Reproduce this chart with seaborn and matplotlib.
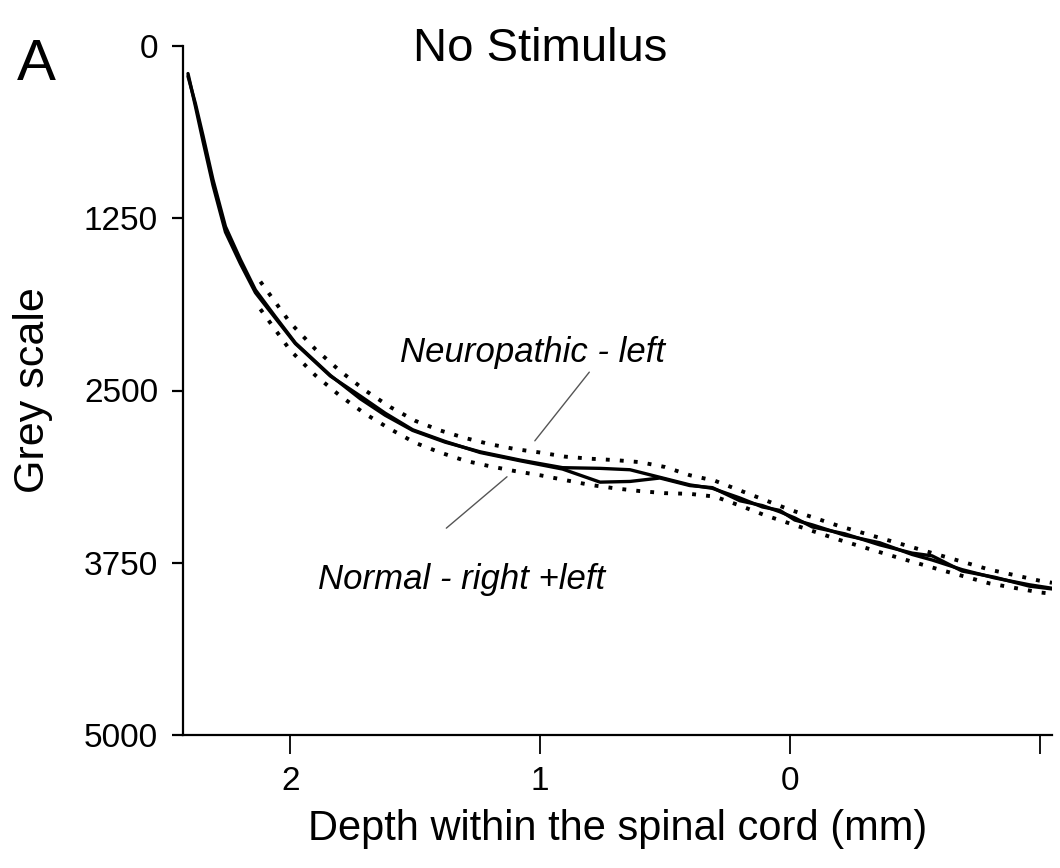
import matplotlib
matplotlib.use("Agg")
import matplotlib.pyplot as plt
import seaborn as sns
import pandas as pd

# ---- data ----
depth = [2.41, 2.38, 2.35, 2.31, 2.26, 2.20, 2.14, 2.06, 1.98, 1.84, 1.72, 1.62, 1.51,
         1.38, 1.24, 1.08, 0.91, 0.76, 0.64, 0.52, 0.40, 0.31, 0.20, 0.11, 0.04,
         -0.02, -0.09, -0.22, -0.36, -0.49, -0.57, -0.69, -0.82, -0.96, -1.05]
normal = [220, 420, 650, 970, 1310, 1550, 1770, 1965, 2155, 2390, 2560, 2680, 2790,
          2875, 2945, 3005, 3060, 3065, 3075, 3130, 3185, 3210, 3280, 3345, 3370,
          3440, 3475, 3550, 3605, 3690, 3730, 3800, 3860, 3910, 3935]
neuropathic = [200, 440, 690, 1010, 1350, 1580, 1790, 1975, 2160, 2395, 2540, 2665, 2785,
               2870, 2950, 3010, 3070, 3165, 3160, 3135, 3190, 3205, 3300, 3335, 3380,
               3425, 3490, 3540, 3620, 3680, 3700, 3810, 3855, 3920, 3940]

band_depth = [2.12, 2.0, 1.9, 1.8, 1.7, 1.6, 1.5, 1.4, 1.3, 1.2, 1.1, 1.0, 0.9, 0.8,
              0.7, 0.6, 0.5, 0.4, 0.3, 0.2, 0.1, 0.0, -0.2, -0.4, -0.6, -0.8, -1.0, -1.05]
band_upper = [1710, 2010, 2200, 2360, 2500, 2620, 2720, 2790, 2845, 2890, 2925, 2950,
              2980, 2995, 3005, 3020, 3055, 3115, 3155, 3225, 3295, 3365, 3485, 3590,
              3695, 3800, 3880, 3895]
band_lower = [1910, 2210, 2390, 2540, 2670, 2780, 2880, 2950, 3010, 3050, 3085, 3115,
              3150, 3185, 3210, 3230, 3245, 3250, 3270, 3335, 3405, 3465, 3585, 3695,
              3800, 3900, 3965, 3975]

y_ticks = [0, 1250, 2500, 3750, 5000]
x_ticks = [2, 1, 0, -1]
x_tick_labels = ["2", "1", "0", ""]

# ---- style ----
sns.set_style("ticks")
plt.rcParams["font.family"] = ["Liberation Sans", "DejaVu Sans"]
plt.rcParams["text.color"] = "black"
plt.rcParams["axes.labelcolor"] = "black"

fig = plt.figure(figsize=(10.6, 8.68), dpi=100)
ax = fig.add_axes([183 / 1060, 1 - 735 / 868, (1052 - 183) / 1060, (735 - 46) / 868])

solid = pd.DataFrame({
    "depth": depth * 2,
    "grey": normal + neuropathic,
    "group": ["Normal"] * len(depth) + ["Neuropathic"] * len(depth),
})
sns.lineplot(data=solid, x="depth", y="grey", hue="group", units="group",
             estimator=None, sort=False, palette=["black", "black"],
             linewidth=2.4, legend=False, ax=ax)

band = pd.DataFrame({
    "depth": band_depth * 2,
    "grey": band_upper + band_lower,
    "side": ["upper"] * len(band_depth) + ["lower"] * len(band_depth),
})
sns.lineplot(data=band, x="depth", y="grey", hue="side", units="side",
             estimator=None, sort=False, palette=["black", "black"],
             linewidth=2.8, legend=False, ax=ax)
for ln in ax.lines[-2:]:
    ln.set_linestyle((0, (1, 2.6)))

ax.set_xlim(2.43, -1.05)
ax.set_ylim(5000, 0)
ax.set_yticks(y_ticks)
ax.set_yticklabels([str(v) for v in y_ticks])
ax.set_xticks(x_ticks)
ax.set_xticklabels(x_tick_labels)

sns.despine(ax=ax)
for s in ("left", "bottom"):
    ax.spines[s].set_linewidth(1.6)
    ax.spines[s].set_color("black")
ax.tick_params(axis="y", direction="out", length=8, width=1.6, pad=10,
               labelsize=24, colors="black")
ax.tick_params(axis="x", direction="out", length=14, width=1.3, pad=8,
               labelsize=24, colors="black")

ax.set_xlabel("Depth within the spinal cord (mm)", fontsize=30, labelpad=9,
              color="black")
ax.set_ylabel("Grey scale", fontsize=31, labelpad=22, color="black")

fig.text(540 / 1060, 1 - 61 / 868, "No Stimulus", fontsize=34, color="black",
         ha="center", va="baseline")
fig.text(36 / 1060, 1 - 80 / 868, "A", fontsize=42, color="black",
         ha="center", va="baseline")

ax.text(1.03, 2221, "Neuropathic - left", fontsize=25, style="italic",
        color="black", ha="center", va="center")
ax.text(1.316, 3875, "Normal - right +left", fontsize=25, style="italic",
        color="black", ha="center", va="center")
ax.annotate("", xy=(1.028, 2881), xytext=(0.796, 2351),
            arrowprops=dict(arrowstyle="-", color="#555555", lw=1.0))
ax.annotate("", xy=(1.124, 3113), xytext=(1.384, 3512),
            arrowprops=dict(arrowstyle="-", color="#555555", lw=1.0))

fig.savefig("out.png", dpi=100)
